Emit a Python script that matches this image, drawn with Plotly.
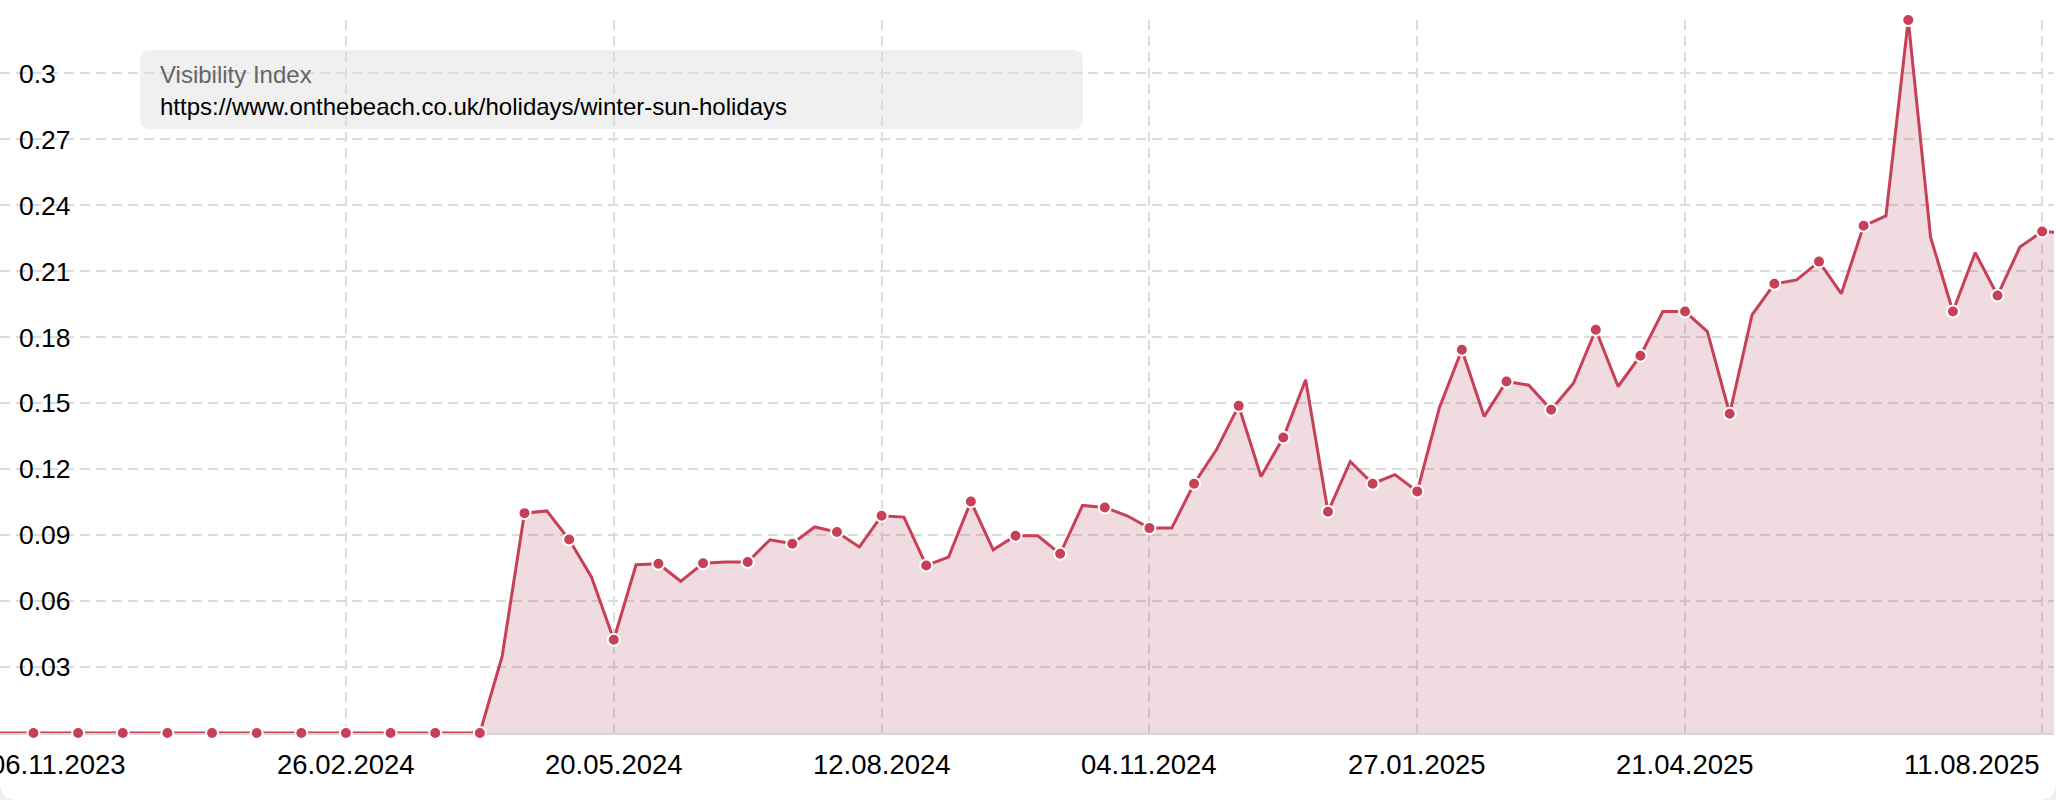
import pandas as pd
import plotly.graph_objects as go

# ---------------- data ----------------
start_date = "2023-11-06"          # first weekly data point
visibility = [
    0, 0, 0, 0, 0, 0, 0, 0, 0, 0,
    0, 0, 0, 0, 0, 0, 0, 0, 0, 0,
    0, 0, 0, 0.035, 0.100, 0.101, 0.088, 0.071, 0.0424, 0.0765,
    0.077, 0.069, 0.0772, 0.0778, 0.0778, 0.0879, 0.0861, 0.0937, 0.0914, 0.0846,
    0.0988, 0.0982, 0.0762, 0.080, 0.1053, 0.0833, 0.0897, 0.0897, 0.0815, 0.1035,
    0.1026, 0.0988, 0.0932, 0.0932, 0.1134, 0.1288, 0.1488, 0.1167, 0.1344, 0.1607,
    0.1006, 0.1235, 0.1134, 0.1175, 0.1099, 0.1482, 0.1743, 0.1440, 0.1599, 0.1582,
    0.1470, 0.1591, 0.1834, 0.1576, 0.1716, 0.1917, 0.1917, 0.1826, 0.1452, 0.1902,
    0.2043, 0.2061, 0.2144, 0.1998, 0.2307, 0.2352, 0.3243, 0.2255, 0.1917, 0.2185,
    0.1990, 0.2210, 0.2281, 0.2275,
]
dates = pd.date_range(start_date, periods=len(visibility), freq="7D")

x_tick_labels = ["06.11.2023", "26.02.2024", "20.05.2024", "12.08.2024",
                 "04.11.2024", "27.01.2025", "21.04.2025", "11.08.2025"]
x_tick_dates = pd.to_datetime(x_tick_labels, format="%d.%m.%Y")

y_tick_values = [0.03, 0.06, 0.09, 0.12, 0.15, 0.18, 0.21, 0.24, 0.27, 0.3]
y_tick_labels = ["0.03", "0.06", "0.09", "0.12", "0.15", "0.18", "0.21", "0.24", "0.27", "0.3"]

legend_title = "Visibility Index"
legend_url = "https://www.onthebeach.co.uk/holidays/winter-sun-holidays"

# ---------------- style ----------------
W, H = 2056, 800
ML, MR, MT, MB = 0, 2, 20, 67
PW, PH = W - ML - MR, H - MT - MB
RED = "#c83f58"
FILL = "rgba(180,82,98,0.2)"
GRID = "#dcdcdc"
FONT = "Liberation Sans, Arial, Helvetica, sans-serif"
XLABEL_FONT = dict(family=FONT, size=27.5, color="#000000")


def px_x(px):
    return (px - ML) / PW


def px_y(py):
    return (H - MB - py) / PH


def to_path(cmds):
    s = ""
    for cmd, ps in cmds:
        s += cmd + " " + " ".join(f"{px_x(a):.6f},{px_y(b):.6f}" for a, b in ps) + " "
    return s + "Z"


def rounded_rect(x0, y0, x1, y1, r):
    return to_path([
        ("M", [(x0 + r, y0)]), ("L", [(x1 - r, y0)]), ("Q", [(x1, y0), (x1, y0 + r)]),
        ("L", [(x1, y1 - r)]), ("Q", [(x1, y1), (x1 - r, y1)]), ("L", [(x0 + r, y1)]),
        ("Q", [(x0, y1), (x0, y1 - r)]), ("L", [(x0, y0 + r)]), ("Q", [(x0, y0), (x0 + r, y0)]),
    ])


fig = go.Figure()
fig.add_trace(go.Scatter(
    x=dates, y=visibility, mode="lines",
    line=dict(color=RED, width=3),
    fill="tozeroy", fillcolor=FILL,
    hoverinfo="skip", showlegend=False,
))
fig.add_trace(go.Scatter(
    x=dates[::2], y=visibility[::2], mode="markers",
    marker=dict(size=12, color=RED, line=dict(color="white", width=2)),
    cliponaxis=False, showlegend=False,
))

annotations = []
n_lab = len(x_tick_labels)
for i, (d, lab) in enumerate(zip(x_tick_dates, x_tick_labels)):
    if i == 0:
        # first label is justified against the chart's left edge (its tick lies left of the view)
        annotations.append(dict(
            x=0, xref="paper", y=0, yref="paper", xanchor="left", xshift=-12,
            yanchor="middle", yshift=-31, text=lab, showarrow=False, font=XLABEL_FONT,
        ))
    else:
        annotations.append(dict(
            x=d.strftime("%Y-%m-%d"), xref="x", y=0, yref="paper",
            xanchor="right" if i == n_lab - 1 else "center",
            yanchor="middle", yshift=-31,
            text=lab, showarrow=False, font=XLABEL_FONT,
        ))

annotations.append(dict(
    x=px_x(158), xref="paper", y=px_y(74.5), yref="paper",
    xanchor="left", yanchor="middle", text=legend_title, showarrow=False,
    font=dict(family=FONT, size=24, color="#666666"),
))
annotations.append(dict(
    x=px_x(158), xref="paper", y=px_y(106.5), yref="paper",
    xanchor="left", yanchor="middle", text=legend_url, showarrow=False,
    font=dict(family=FONT, size=24, color="#000000"),
))

shapes = [
    dict(type="path", xref="paper", yref="paper", layer="below",
         path=rounded_rect(140, 50, 1083, 129, 10),
         fillcolor="#f0f0f0", line=dict(width=0)),
    dict(type="path", xref="paper", yref="paper", layer="above",
         path=to_path([("M", [(0, 783)]), ("Q", [(0, 800), (17, 800)]), ("L", [(0, 800)])]),
         fillcolor="#eeeeee", line=dict(width=0)),
    dict(type="path", xref="paper", yref="paper", layer="above",
         path=to_path([("M", [(2056, 783)]), ("Q", [(2056, 800), (2039, 800)]), ("L", [(2056, 800)])]),
         fillcolor="#eeeeee", line=dict(width=0)),
]

fig.update_layout(
    width=W, height=H, autosize=False,
    margin=dict(l=ML, r=MR, t=MT, b=MB, pad=0),
    paper_bgcolor="white", plot_bgcolor="white",
    font=dict(family=FONT, color="#000000"),
    showlegend=False,
    annotations=annotations,
    shapes=shapes,
    xaxis=dict(
        type="date",
        range=["2023-11-09 12:00", "2025-08-14 17:00"],
        tickvals=x_tick_dates, showticklabels=False, ticks="",
        showgrid=True, gridcolor=GRID, gridwidth=2, griddash="10px,6px",
        zeroline=False, showline=True, linecolor="#d6d6d6", linewidth=2,
        layer="below traces", fixedrange=True,
    ),
    yaxis=dict(
        range=[0, 0.3243],
        tickvals=y_tick_values, ticktext=y_tick_labels,
        ticklabelposition="inside", ticklabelstandoff=16, ticks="",
        tickfont=dict(family=FONT, size=26.5, color="#000000"),
        showgrid=True, gridcolor=GRID, gridwidth=2, griddash="10px,6px",
        zeroline=False, showline=False, fixedrange=True,
    ),
)

fig.write_html(
    "out.html",
    config={"displayModeBar": False},
    post_script=("document.body.style.margin='0';"
                 "document.body.style.overflow='hidden';"
                 "document.documentElement.style.overflow='hidden';"),
)
